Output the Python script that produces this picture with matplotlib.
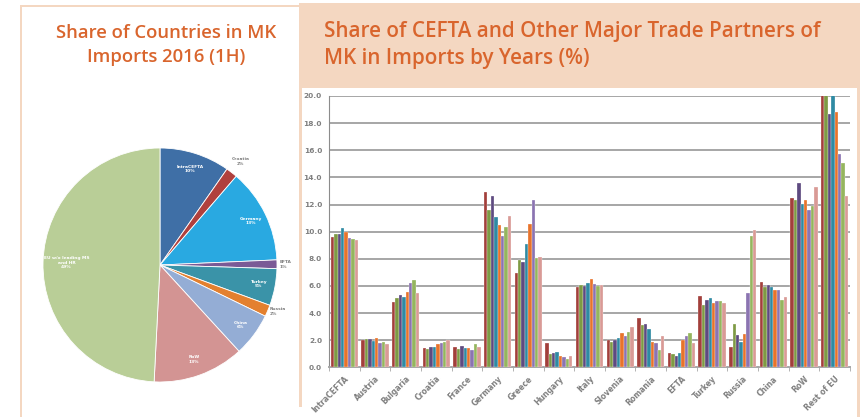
import numpy as np
import matplotlib
matplotlib.use("Agg")
import matplotlib.pyplot as plt
from matplotlib.patches import Rectangle

W, H = 863, 417

# pie: share of countries in imports, 2016 (1H)
pie_labels = ["IntraCEFTA", "Croatia", "Germany", "EFTA", "Turkey", "Russia",
              "China", "RoW", "EU w/o leading MS\nand HR"]
pie_values = [9.7, 1.6, 13.0, 1.2, 5.1, 1.6, 6.0, 12.6, 49.2]
pie_colors = ["#3F6FA6", "#B0403D", "#29A9E1", "#7A5A96", "#3A93A8", "#E3802F",
              "#94ADD5", "#D39493", "#B9CE97"]
pie_outside = ["Croatia", "EFTA", "Russia"]

# bars: share by years (%)
partners = ["IntraCEFTA", "Austria", "Bulgaria", "Croatia", "France", "Germany",
            "Greece", "Hungary", "Italy", "Slovenia", "Romania", "EFTA", "Turkey",
            "Russia", "China", "RoW", "Rest of EU"]
s1 = [9.63, 1.99, 4.79, 1.43, 1.47, 12.95, 6.98, 1.77, 5.90, 1.99, 3.64, 1.03, 5.23, 1.47, 6.29, 12.46, 21.0]
s2 = [9.80, 2.09, 5.09, 1.38, 1.35, 11.60, 7.91, 0.96, 6.07, 1.89, 3.12, 0.96, 4.57, 3.19, 5.90, 12.33, 20.6]
s3 = [9.85, 2.09, 5.31, 1.52, 1.57, 12.63, 7.76, 1.06, 6.00, 1.99, 3.19, 0.86, 4.96, 2.36, 6.07, 13.59, 18.67]
s4 = [10.30, 1.97, 5.21, 1.47, 1.43, 11.06, 9.09, 1.10, 6.19, 2.14, 2.80, 1.06, 5.09, 1.89, 5.90, 12.04, 20.4]
s5 = [9.95, 2.16, 5.53, 1.72, 1.43, 10.47, 10.54, 0.81, 6.49, 2.51, 1.87, 1.99, 4.72, 2.46, 5.70, 12.33, 18.85]
s6 = [9.50, 1.79, 6.24, 1.82, 1.30, 9.68, 12.33, 0.76, 6.14, 2.29, 1.79, 2.29, 4.91, 5.48, 5.68, 11.57, 15.72]
s7 = [9.43, 1.84, 6.44, 1.84, 1.72, 10.32, 8.03, 0.64, 5.97, 2.60, 1.30, 2.51, 4.86, 9.68, 4.99, 11.92, 15.04]
s8 = [9.38, 1.72, 5.48, 2.04, 1.52, 11.18, 8.10, 0.83, 6.07, 2.97, 2.29, 1.79, 4.74, 10.12, 5.21, 13.27, 12.63]
series = [s1, s2, s3, s4, s5, s6, s7, s8]
bar_colors = ["#A23F3B", "#7E9A44", "#5E4A80", "#2F8AA3", "#E8732B", "#8B74B1",
              "#95B55E", "#D99A96"]

orange = "#D9652D"
peach = "#F4D7C1"
grey = "#7F7F7F"


def box(x, y, w, h):
    # pixel box (top-left origin) -> figure fraction rect
    return [x / W, 1 - (y + h) / H, w / W, h / H]


fig = plt.figure(figsize=(W / 100, H / 100), dpi=100)
fig.patch.set_facecolor("white")

# frames
fig.patches.append(Rectangle((20 / W, 0), 1.5 / W, 1 - 5 / H, transform=fig.transFigure,
                             color=peach, lw=0))
fig.patches.append(Rectangle((20 / W, 1 - 7 / H), 280 / W, 2.5 / H, transform=fig.transFigure,
                             color=peach, lw=0))
fig.patches.append(Rectangle((300 / W, 1 - 88 / H), 560 / W, 85 / H, transform=fig.transFigure,
                             color=peach, lw=0))
fig.patches.append(Rectangle((299 / W, 10 / H), 2.5 / W, 1 - 10 / H - 3 / H, transform=fig.transFigure,
                             color=peach, lw=0))
fig.patches.append(Rectangle((857 / W, 0), 3 / W, 1 - 3 / H, transform=fig.transFigure,
                             color=peach, lw=0))

# titles
fig.text(166 / W, 1 - 45 / H, "Share of Countries in MK\nImports 2016 (1H)", ha="center",
         va="center", color=orange, fontsize=13.3, fontweight="semibold",
         family="Open Sans", linespacing=1.45)
fig.text(324 / W, 1 - 45 / H, "Share of CEFTA and Other Major Trade Partners of\nMK in Imports by Years (%)",
         ha="left", va="center", color=orange, fontsize=14.9, fontweight="semibold",
         family="Open Sans", linespacing=1.4)

# pie
axp = fig.add_axes(box(43, 148, 234, 234))
wedges, _ = axp.pie(pie_values, colors=pie_colors, startangle=90, counterclock=False,
                    radius=1, wedgeprops=dict(edgecolor="white", linewidth=0.6))
total = sum(pie_values)
for w, lab, v in zip(wedges, pie_labels, pie_values):
    ang = np.deg2rad((w.theta1 + w.theta2) / 2)
    txt = f"{lab}\n{v / total * 100:.0f}%"
    if lab in pie_outside:
        r, col = 1.02, grey
        ha = "left"
        if lab == "Croatia":
            r, ha = 1.12, "center"
    elif lab.startswith("EU"):
        r, col, ha = 0.8, "white", "center"
    else:
        r, col, ha = 0.86, "white", "center"
    axp.text(r * np.cos(ang), r * np.sin(ang), txt, ha=ha, va="center", color=col,
             fontsize=3.2, fontweight="bold", linespacing=1.2)
axp.set_xlim(-1, 1)
axp.set_ylim(-1, 1)
axp.set_aspect("equal")
axp.axis("off")

# bars
axb = fig.add_axes(box(329, 96, 521, 271.3))
n = len(series)
x = np.arange(len(partners))
bw = 0.89 / n
for i, (vals, c) in enumerate(zip(series, bar_colors)):
    axb.bar(x - 0.445 + bw * (i + 0.5), vals, width=bw, color=c,
            edgecolor="white", linewidth=0.2, zorder=3)
axb.set_ylim(0, 20)
axb.set_xlim(-0.5, len(partners) - 0.5)
axb.set_yticks(np.arange(0, 20.1, 2))
axb.set_yticklabels([f"{v:.1f}" for v in np.arange(0, 20.1, 2)])
axb.yaxis.grid(True, color="#A6A6A6", linewidth=1.4, zorder=0)
axb.set_axisbelow(True)
axb.set_xticks(x)
axb.set_xticklabels(partners, rotation=45, ha="right", rotation_mode="anchor")
axb.set_xticks(np.arange(-0.5, len(partners)), minor=True)
axb.tick_params(axis="x", which="major", length=0, pad=5, labelsize=5.5, labelcolor=grey)
axb.tick_params(axis="x", which="minor", length=3, color="#A6A6A6")
axb.tick_params(axis="y", length=0, pad=5, labelsize=5.3, labelcolor=grey)
for lab in axb.get_xticklabels() + axb.get_yticklabels():
    lab.set_fontweight("bold")
for side in ["top", "right"]:
    axb.spines[side].set_visible(False)
axb.spines["left"].set_color("#8C8C8C")
axb.spines["bottom"].set_color("#A6A6A6")
axb.spines["bottom"].set_linewidth(1.4)

fig.savefig("out.png", dpi=100)
